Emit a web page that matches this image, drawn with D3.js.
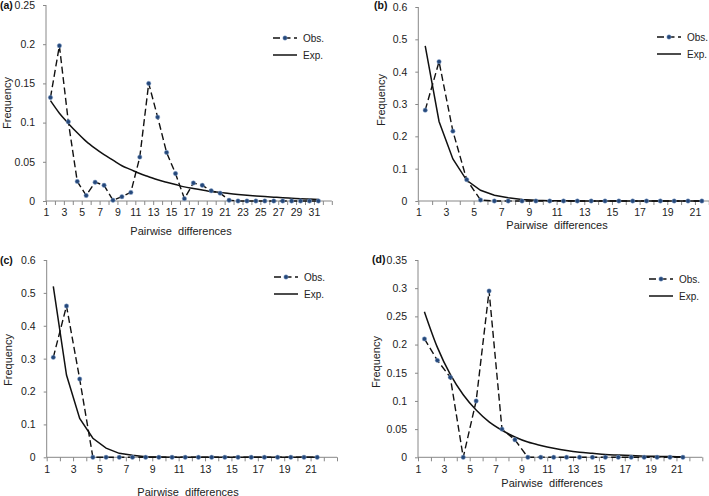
<!DOCTYPE html>
<html>
<head>
<meta charset="utf-8">
<script src="https://cdn.jsdelivr.net/npm/d3@7"></script>
<style>
	body { margin: 0; background: #fff; }
	svg { display: block; }
	.tick text { font-family: "Liberation Sans", Arial, sans-serif; font-size: 10.5px; fill: #222; }
	.axis path, .axis line { stroke: #888; }
	.title { font-family: "Liberation Sans", Arial, sans-serif; font-size: 11px; fill: #222; }
	.legend text { font-family: "Liberation Sans", Arial, sans-serif; font-size: 10px; fill: #222; }
	.panel-label { font-family: "Liberation Sans", Arial, sans-serif; font-size: 10.5px; font-weight: bold; fill: #111; }
</style>
</head>
<body>
<svg id="chart" width="709" height="496"></svg>
<script>
// Observed / expected mismatch distributions, one value per category 1..N
var obsA = [0.132, 0.198, 0.101, 0.025, 0.007, 0.024, 0.020, 0.001, 0.0055, 0.011, 0.056,
	0.150, 0.107, 0.062, 0.035, 0.003, 0.023, 0.020, 0.013, 0.010, 0.001, 0, 0, 0, 0, 0, 0, 0, 0, 0, 0];
var expA = [0.128, 0.112, 0.099, 0.087, 0.076, 0.067, 0.059, 0.052, 0.045, 0.040, 0.035,
	0.031, 0.027, 0.024, 0.021, 0.018, 0.016, 0.014, 0.012, 0.011, 0.0095, 0.0083, 0.0073,
	0.0064, 0.0056, 0.0049, 0.0042, 0.0036, 0.003, 0.0025, 0.002];

var obsB = [0.281, 0.431, 0.216, 0.066, 0.003, 0, 0, 0, 0, 0, 0, 0, 0, 0, 0, 0, 0, 0, 0, 0, 0];
var expB = [0.48, 0.246, 0.13, 0.064, 0.033, 0.018, 0.010, 0.005, 0.002, 0.001, 0.0005,
	0, 0, 0, 0, 0, 0, 0, 0, 0, 0];

var obsC = [0.304, 0.46, 0.238, 0, 0, 0, 0, 0, 0, 0, 0, 0, 0, 0, 0, 0, 0, 0, 0, 0, 0];
var expC = [0.52, 0.25, 0.118, 0.058, 0.028, 0.012, 0.006, 0.002, 0.001, 0.0005, 0,
	0, 0, 0, 0, 0, 0, 0, 0, 0, 0];

var obsD = [0.210, 0.172, 0.142, 0, 0.100, 0.295, 0.050, 0.031, 0, 0, 0, 0, 0, 0, 0, 0, 0, 0, 0, 0, 0];
var expD = [0.258, 0.195, 0.147, 0.111, 0.084, 0.063, 0.048, 0.036, 0.027, 0.021, 0.016,
	0.012, 0.009, 0.007, 0.005, 0.004, 0.003, 0.002, 0.0017, 0.0013, 0.001];

// Tick labels
var xLabelsA = [1, 3, 5, 7, 9, 11, 13, 15, 17, 19, 21, 23, 25, 27, 29, 31];
var xLabelsBCD = [1, 3, 5, 7, 9, 11, 13, 15, 17, 19, 21];
var yTicksA = [0, 0.05, 0.1, 0.15, 0.2, 0.25];
var yTicksBC = [0, 0.1, 0.2, 0.3, 0.4, 0.5, 0.6];
var yTicksD = [0, 0.05, 0.1, 0.15, 0.2, 0.25, 0.3, 0.35];

var panels = [
	{ name: '(a)', obs: obsA, exp: expA, xLabels: xLabelsA, yTicks: yTicksA, xMax: 33, smooth: true,
		x0: 46, x1: 331.8, y0: 201, y1: 5, lab: [0, 5], freq: [7, 103], pair: [181, 235], leg: [273, 38] },
	{ name: '(b)', obs: obsB, exp: expB, xLabels: xLabelsBCD, yTicks: yTicksBC, xMax: 23, smooth: false,
		x0: 418.3, x1: 722.6, y0: 201, y1: 7, lab: [374, 5], freq: [381, 100], pair: [557, 228.5], leg: [657, 37] },
	{ name: '(c)', obs: obsC, exp: expC, xLabels: xLabelsBCD, yTicks: yTicksBC, xMax: 23, smooth: false,
		x0: 46.7, x1: 337, y0: 457.3, y1: 260, lab: [0, 260], freq: [8, 360], pair: [188, 495.5], leg: [274, 277] },
	{ name: '(d)', obs: obsD, exp: expD, xLabels: xLabelsBCD, yTicks: yTicksD, xMax: 23, smooth: true,
		x0: 418, x1: 702.3, y0: 457.3, y1: 260, lab: [372, 259], freq: [376, 362], pair: [552, 487], leg: [649, 279] }
];

var svg = d3.select('#chart');

panels.forEach(function (p) {
	var g = svg.append('g');

	var xScale = d3.scaleLinear().domain([1, p.xMax]).range([p.x0, p.x1]);
	var yScale = d3.scaleLinear().domain([0, p.yTicks[p.yTicks.length - 1]]).range([p.y0, p.y1]);

	// x axis: a tick at every category boundary, labels on the odd ones
	var xAxis = d3.axisBottom(xScale)
		.tickValues(d3.range(1, p.xMax + 1))
		.tickSize(4)
		.tickPadding(4)
		.tickFormat(function (d) { return p.xLabels.indexOf(d) >= 0 ? d : ''; });
	g.append('g')
		.attr('class', 'axis')
		.attr('transform', 'translate(0,' + p.y0 + ')')
		.call(xAxis)
		.call(function (a) { a.select('.domain').attr('d', 'M' + p.x0 + ',0H' + p.x1); });

	var yAxis = d3.axisLeft(yScale)
		.tickValues(p.yTicks)
		.tickSize(3)
		.tickPadding(8)
		.tickFormat(function (d) { return String(d); });
	g.append('g')
		.attr('class', 'axis')
		.attr('transform', 'translate(' + p.x0 + ',0)')
		.call(yAxis)
		.call(function (a) { a.select('.domain').attr('d', 'M0,' + p.y0 + 'V' + p.y1); });

	// points sit in the middle of each category
	var px = function (d, i) { return xScale(i + 1.5); };

	var expLine = d3.line()
		.x(px)
		.y(function (d) { return yScale(d); })
		.curve(p.smooth ? d3.curveMonotoneX : d3.curveLinear);

	var obsLine = d3.line()
		.x(px)
		.y(function (d) { return yScale(d); });

	g.append('path')
		.datum(p.exp)
		.attr('d', expLine)
		.attr('fill', 'none')
		.attr('stroke', '#111')
		.attr('stroke-width', 1.5);

	g.append('path')
		.datum(p.obs)
		.attr('d', obsLine)
		.attr('fill', 'none')
		.attr('stroke', '#111')
		.attr('stroke-width', 1.4)
		.attr('stroke-dasharray', '7,3.5');

	g.selectAll('circle.pt')
		.data(p.obs)
		.enter()
		.append('circle')
		.attr('class', 'pt')
		.attr('cx', px)
		.attr('cy', function (d) { return yScale(d); })
		.attr('r', 2.2)
		.attr('fill', '#25487a')
		.attr('stroke', '#8aa6cf')
		.attr('stroke-width', 0.5);

	// titles
	g.append('text')
		.attr('class', 'title')
		.attr('x', p.pair[0])
		.attr('y', p.pair[1])
		.attr('text-anchor', 'middle')
		.text('Pairwise\u00a0 differences');

	g.append('text')
		.attr('class', 'title')
		.attr('transform', 'translate(' + (p.freq[0] + 4) + ',' + p.freq[1] + ') rotate(-90)')
		.attr('text-anchor', 'middle')
		.text('Frequency');

	g.append('text')
		.attr('class', 'panel-label')
		.attr('x', p.lab[0])
		.attr('y', p.lab[1] + 4)
		.text(p.name);

	// legend
	var leg = g.append('g').attr('class', 'legend')
		.attr('transform', 'translate(' + p.leg[0] + ',' + p.leg[1] + ')');
	leg.append('line')
		.attr('x1', 0).attr('x2', 24).attr('y1', 0).attr('y2', 0)
		.attr('stroke', '#111').attr('stroke-width', 1.4).attr('stroke-dasharray', '7,3.5');
	leg.append('circle')
		.attr('cx', 12).attr('cy', 0).attr('r', 2.2)
		.attr('fill', '#25487a').attr('stroke', '#8aa6cf').attr('stroke-width', 0.5);
	leg.append('text').attr('x', 30).attr('y', 3.5).text('Obs.');
	leg.append('line')
		.attr('x1', 0).attr('x2', 24).attr('y1', 17).attr('y2', 17)
		.attr('stroke', '#111').attr('stroke-width', 1.5);
	leg.append('text').attr('x', 30).attr('y', 20.5).text('Exp.');
});
</script>
</body>
</html>
